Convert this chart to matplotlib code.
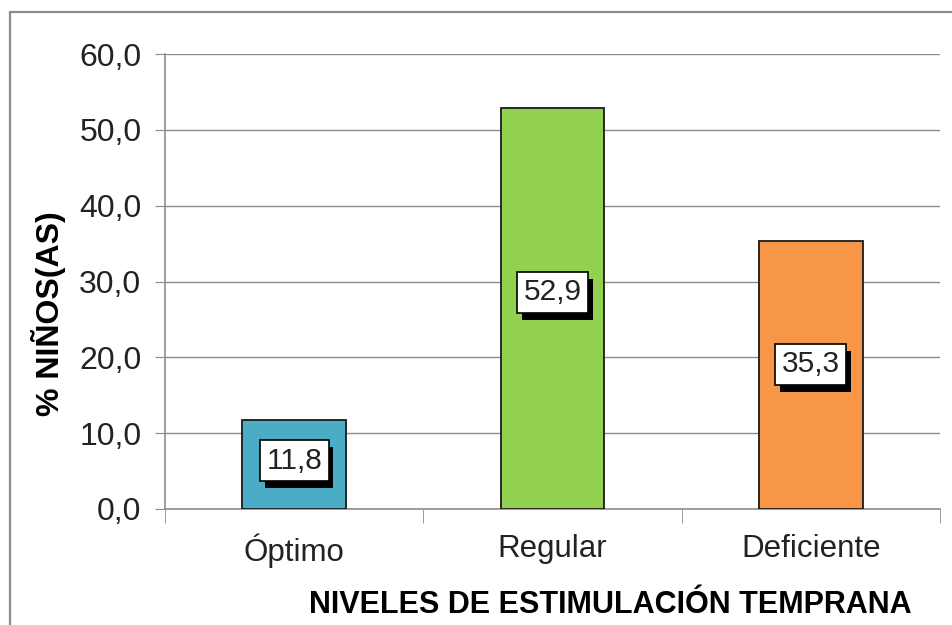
import matplotlib.pyplot as plt
import matplotlib.patheffects as pe
from matplotlib.patches import Rectangle

plt.rcParams['font.family'] = ['Liberation Sans', 'DejaVu Sans']

# Datos
niveles = ['Óptimo', 'Regular', 'Deficiente']
porcentajes = [11.8, 52.9, 35.3]
colores = ['#4BACC6', '#92D050', '#F79646']
yticks = [0, 10, 20, 30, 40, 50, 60]

fig = plt.figure(figsize=(9.52, 6.25), dpi=100)
ax = fig.add_axes([165/952, 1 - 509/625, (940 - 165)/952, (509 - 54)/625])

# marco exterior del grafico
fig.patches.append(Rectangle((10/952, -0.1), 1.2, 1 - 12/625 + 0.1,
                             transform=fig.transFigure, fill=False,
                             edgecolor='#8c8c8c', linewidth=1.6))

x = range(len(niveles))
ax.bar(x, porcentajes, width=0.4, color=colores, edgecolor='#1a1a1a',
       linewidth=1.3, zorder=3)

ax.set_xlim(-0.5, 2.5)
ax.set_ylim(0, 60)
ax.set_yticks(yticks)
ax.set_yticklabels(['{:.1f}'.format(v).replace('.', ',') for v in yticks],
                   fontsize=23, color='#222222')
ax.yaxis.grid(True, color='#8c8c8c', linewidth=1, zorder=0)
ax.tick_params(axis='y', length=7, color='#8c8c8c', pad=10)

ax.set_xticks(list(x))
ax.set_xticklabels(niveles, fontsize=22.5, color='#222222')
ax.set_xticks([-0.5, 0.5, 1.5, 2.5], minor=True)
ax.tick_params(axis='x', which='major', length=0, pad=18)
ax.tick_params(axis='x', which='minor', length=10, color='#8c8c8c')

for s in ['top', 'right']:
    ax.spines[s].set_visible(False)
for s in ['left', 'bottom']:
    ax.spines[s].set_color('#8c8c8c')
    ax.spines[s].set_linewidth(1.2)

ax.set_ylabel('% NIÑOS(AS)', fontsize=23, fontweight='bold')
ax.yaxis.set_label_coords(-0.128, 0.43)
fig.text(610/952, 1 - 605/625, 'NIVELES DE ESTIMULACIÓN TEMPRANA',
         fontsize=22, fontweight='bold', ha='center', va='center')

# etiquetas de valores con sombra
for i, v in enumerate(porcentajes):
    t = ax.text(i, v * 0.54, '{:.1f}'.format(v).replace('.', ','),
                ha='center', va='center', fontsize=21.5, color='#222222',
                zorder=5,
                bbox=dict(boxstyle='square,pad=0.22', facecolor='white',
                          edgecolor='black', linewidth=1.2))
    t.get_bbox_patch().set_path_effects([
        pe.SimplePatchShadow(offset=(3.5, -5), shadow_rgbFace='black', alpha=1),
        pe.Normal()])

fig.savefig('out.png', dpi=100)
